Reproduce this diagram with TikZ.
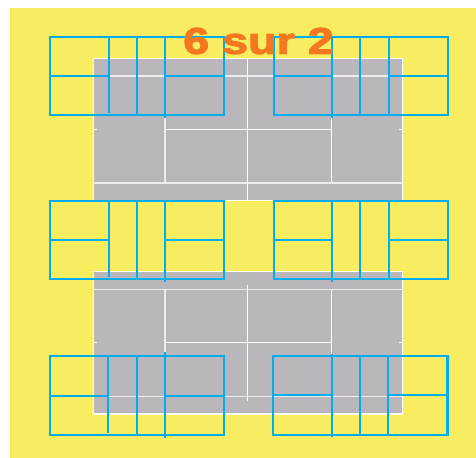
\documentclass[tikz,border=0pt]{standalone}
\usepackage{fontspec}
\setmainfont{Liberation Sans}
\newfontfamily\titlefont[UprightFont=* Bold,FakeBold=2.5]{Liberation Sans}
\definecolor{yel}{HTML}{F8EC60}
\definecolor{court}{HTML}{B9B7BB}
\definecolor{bl}{HTML}{00AEEF}
\definecolor{org}{HTML}{F6781E}
\tikzset{
  x=0.75pt,y=-0.75pt,
  courtline/.style={white,line width=0.8pt},
  courtthick/.style={white!75!court,line width=1.1pt},
  mark1/.style={bl,line width=1.55pt},
  titletext/.style={org,font=\titlefont\fontsize{28}{28}\selectfont,inner sep=0pt,xscale=1.25}
}
\newcommand{\mycourt}[6]{%
 \fill[court] (93.5,#1) rectangle (402.5,#2);
 \draw[courtthick] (165,#3) -- (165,#5);
 \draw[courtline] (331.7,#3) -- (331.7,#5);
 \draw[courtline] (165,#4) -- (331.7,#4);
 \draw[courtline] (93.5,#4) -- (97,#4);
 \draw[courtline] (399,#4) -- (402.5,#4);
 \draw[courtthick] (93.5,#3) -- (402.5,#3);
 \draw[courtthick] (93.5,#5) -- (402.5,#5);
 #6
 \draw[courtline] (93.5,#1) rectangle (402.5,#2);
}
\newcommand{\myfour}[9]{%
 \draw[mark1] (#1,#6) rectangle (#5,#8);
 \draw[mark1] (#1,#7) -- (#2,#7);
 \draw[mark1] (#4,#7) -- (#5,#7);
 #9
}
\begin{document}
\begin{tikzpicture}
\useasboundingbox (0,0) rectangle (476,458);
\fill[white] (0,0) rectangle (476,458);
\fill[yel] (10,8) rectangle (476,458);
\mycourt{58.5}{200.5}{76}{129.3}{183}{\draw[courtline] (247.7,58.5) -- (247.7,200.5);}
\mycourt{271.5}{414}{289.3}{342.3}{396.3}{\draw[courtline] (247.7,285.3) -- (247.7,400.7);}
% top left
\myfour{50}{108.7}{137}{165.3}{224}{36.7}{75.8}{115}{
 \draw[mark1] (108.7,36.7) -- (108.7,113);
 \draw[mark1] (137,35.5) -- (137,115);
 \draw[mark1] (165.3,36.7) -- (165.3,118);}
% top right
\myfour{273.7}{332}{360}{388.7}{447.7}{36.7}{75.8}{115}{
 \draw[mark1] (332,35.5) -- (332,117.5);
 \draw[mark1] (360,35.5) -- (360,115);
 \draw[mark1] (388.7,35.5) -- (388.7,115);}
% middle left
\myfour{50}{108.7}{137}{165.3}{224}{200.7}{240}{279.3}{
 \draw[mark1] (108.7,200.7) -- (108.7,277);
 \draw[mark1] (137,199.5) -- (137,279.3);
 \draw[mark1] (165.3,200.7) -- (165.3,282);}
% middle right
\myfour{273.7}{332}{360}{388.7}{447.7}{200.7}{240}{279.3}{
 \draw[mark1] (332,199.5) -- (332,281.5);
 \draw[mark1] (360,200.7) -- (360,279.3);
 \draw[mark1] (388.7,200.7) -- (388.7,279.3);}
% bottom left
\myfour{50}{108.4}{136.7}{165}{224}{356}{395.7}{435}{
 \draw[mark1] (108.4,356) -- (108.4,432.7);
 \draw[mark1] (136.7,356) -- (136.7,435);
 \draw[mark1] (165,352.3) -- (165,437.7);}
% bottom right
\myfour{273.2}{332}{360}{388.3}{447.5}{356}{395.3}{435}{
 \draw[mark1] (332,354) -- (332,437);
 \draw[mark1] (360,356) -- (360,435);
 \draw[mark1] (388.3,356) -- (388.3,435);}
\node[titletext] (title) at (258.5,41) {6 sur 2};
\end{tikzpicture}
\end{document}
